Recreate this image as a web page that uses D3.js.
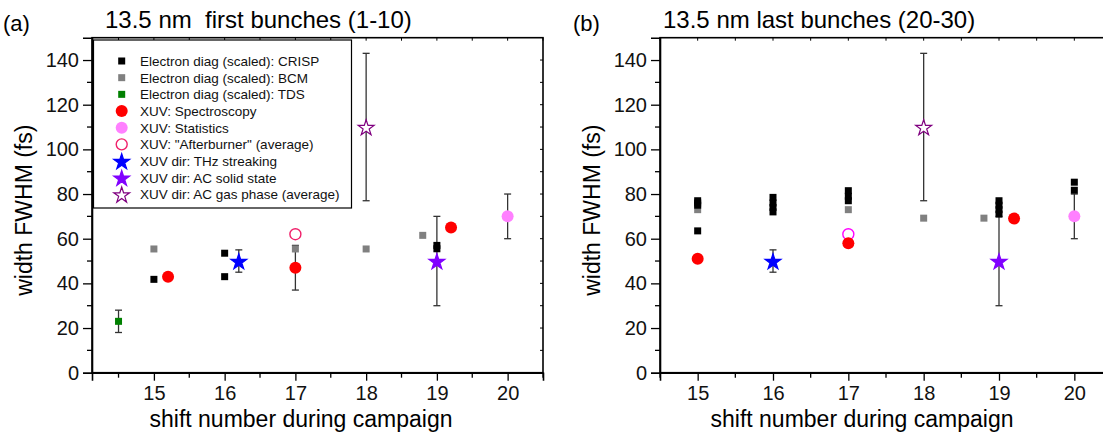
<!DOCTYPE html>
<html><head><meta charset="utf-8">
<script src="https://cdn.jsdelivr.net/npm/d3@7"></script>
<style>
body{margin:0;background:#fff;}
svg{font-family:"Liberation Sans",Arial,sans-serif;}
text{white-space:pre;}
</style></head>
<body>
<svg id="chart" width="1103" height="441"></svg>
<script>
// ---------- data ----------
const xTickValues = [15, 16, 17, 18, 19, 20];
const yTickValues = [0, 20, 40, 60, 80, 100, 120, 140];
const panelTitles = ["13.5 nm  first bunches (1-10)", "13.5 nm last bunches (20-30)"];
const panelLetters = ["(a)", "(b)"];
const legendLabels = [
  "Electron diag (scaled): CRISP",
  "Electron diag (scaled): BCM",
  "Electron diag (scaled): TDS",
  "XUV: Spectroscopy",
  "XUV: Statistics",
  "XUV: \"Afterburner\" (average)",
  "XUV dir: THz streaking",
  "XUV dir: AC solid state",
  "XUV dir: AC gas phase (average)"
];

// panel (a)
const crispA_x = [15, 16, 16, 19, 19];
const crispA_y = [41.8, 53.5, 43, 57, 55.5];
const bcmA_x = [15, 17, 18, 18.8];
const bcmA_y = [55.4, 55.4, 55.4, 61.5];
const tdsA_x = [14.5], tdsA_y = [23], tdsA_err = [5];
const specA_x = [15.2, 17, 19.2], specA_y = [43, 47, 65], specA_err = [0, 10, 0];
const statA_x = [20], statA_y = [70], statA_err = [10];
const afterA_x = [17], afterA_y = [62];
const thzA_x = [16.2], thzA_y = [50], thzA_err = [5];
const acSolidA_x = [19], acSolidA_y = [50], acSolidA_err = [20];
const acGasA_x = [18], acGasA_y = [110], acGasA_err = [33];

// panel (b)
const crispB_x = [15, 15, 15, 15, 16, 16, 16, 16, 17, 17, 17, 19, 19, 19, 19, 20, 20];
const crispB_y = [77, 76, 75, 63.5, 78.5, 76, 74, 72, 81.5, 79, 77, 77, 75, 73, 71, 85.3, 81.7];
const bcmB_x = [15, 17, 18, 18.8];
const bcmB_y = [73, 73, 69.2, 69.2];
const specB_x = [15, 17, 19.2], specB_y = [51, 58, 69], specB_err = [0, 0, 0];
const statB_x = [20], statB_y = [70], statB_err = [10];
const afterB_x = [17], afterB_y = [62];
const thzB_x = [16], thzB_y = [50], thzB_err = [5];
const acSolidB_x = [19], acSolidB_y = [50], acSolidB_err = [20];
const acGasB_x = [18], acGasB_y = [110], acGasB_err = [33];

// ---------- helpers ----------
const zip = (xs, ys, es) => xs.map((x, i) => ({x, y: ys[i], e: es ? es[i] : 0}));

const panels = [
  {
    left: 92, right: 543, xDomain: [14.125, 20.5], letter: panelLetters[0], title: panelTitles[0],
    titleX: 105, letterX: 3, labelCX: 301, legend: true, afterColor: "#f0206a",
    crisp: zip(crispA_x, crispA_y), bcm: zip(bcmA_x, bcmA_y), tds: zip(tdsA_x, tdsA_y, tdsA_err),
    spec: zip(specA_x, specA_y, specA_err), stat: zip(statA_x, statA_y, statA_err),
    after: zip(afterA_x, afterA_y), thz: zip(thzA_x, thzA_y, thzA_err),
    acSolid: zip(acSolidA_x, acSolidA_y, acSolidA_err), acGas: zip(acGasA_x, acGasA_y, acGasA_err)
  },
  {
    left: 660, right: 1112, xDomain: [14.5, 20.5], letter: panelLetters[1], title: panelTitles[1],
    titleX: 663, letterX: 573, labelCX: 862, legend: false, afterColor: "#ff00ff",
    crisp: zip(crispB_x, crispB_y), bcm: zip(bcmB_x, bcmB_y), tds: [],
    spec: zip(specB_x, specB_y, specB_err), stat: zip(statB_x, statB_y, statB_err),
    after: zip(afterB_x, afterB_y), thz: zip(thzB_x, thzB_y, thzB_err),
    acSolid: zip(acSolidB_x, acSolidB_y, acSolidB_err), acGas: zip(acGasB_x, acGasB_y, acGasB_err)
  }
];

const svg = d3.select("#chart");
const plotTop = 37.7, plotBottom = 372.7;
const y = d3.scaleLinear().domain([0, 150]).range([plotBottom, plotTop]);

const starSym = d3.symbol().type(d3.symbolStar).size(78);
const colors = {
  crisp: "#000000", bcm: "#808080", tds: "#008000", spec: "#ff0000", stat: "#ff80ff",
  thz: "#0000ff", acSolid: "#8000ff", acGas: "#800080"
};

panels.forEach(p => {
  const x = d3.scaleLinear().domain(p.xDomain).range([p.left, p.right]);
  const g = svg.append("g");

  // frame
  g.append("rect").attr("x", p.left).attr("y", plotTop)
    .attr("width", p.right - p.left).attr("height", plotBottom - plotTop)
    .attr("fill", "none").attr("stroke", "#000").attr("stroke-width", 1.6);

  // axes
  const xMinor = d3.range(14.5, 20.51, 0.5).filter(v => v >= p.xDomain[0]);
  const yMinor = d3.range(10, 150, 20);
  const xAxis = d3.axisBottom(x).tickValues(xTickValues).tickSize(8).tickPadding(5).tickFormat(d3.format("d"));
  const gx = g.append("g").attr("transform", `translate(0,${plotBottom})`).call(xAxis);
  gx.append("g").selectAll("line").data(xMinor.filter(v => !xTickValues.includes(v))).join("line")
    .attr("x1", d => x(d)).attr("x2", d => x(d)).attr("y1", 0).attr("y2", 5).attr("stroke", "#000").attr("stroke-width", 1.3);
  const yAxis = d3.axisLeft(y).tickValues(yTickValues).tickSize(9).tickPadding(4);
  const gy = g.append("g").attr("transform", `translate(${p.left},0)`).call(yAxis);
  gy.append("g").selectAll("line").data(yMinor).join("line")
    .attr("x1", 0).attr("x2", -5).attr("y1", d => y(d)).attr("y2", d => y(d)).attr("stroke", "#000").attr("stroke-width", 1.3);
  [gx, gy].forEach(a => {
    a.select(".domain").attr("stroke-width", 1.6);
    a.selectAll(".tick line").attr("stroke-width", 1.3);
    a.selectAll(".tick text").attr("font-size", 20).attr("font-family", "Liberation Sans, Arial, sans-serif").attr("fill", "#111");
  });
  // top and right mirrored ticks (inward)
  g.append("g").selectAll("line").data(xMinor).join("line")
    .attr("x1", d => x(d)).attr("x2", d => x(d)).attr("y1", plotTop).attr("y2", plotTop + 3).attr("stroke", "#000").attr("stroke-width", 1);
  g.append("g").selectAll("line").data(yTickValues.concat(yMinor)).join("line")
    .attr("x1", p.right).attr("x2", p.right - 3).attr("y1", d => y(d)).attr("y2", d => y(d)).attr("stroke", "#000").attr("stroke-width", 1);

  // labels
  g.append("text").attr("x", p.letterX).attr("y", 31).attr("font-size", 22).text(p.letter);
  g.append("text").attr("x", p.titleX).attr("y", 28).attr("font-size", 24).text(p.title);
  g.append("text").attr("x", p.labelCX).attr("y", 427).attr("text-anchor", "middle").attr("font-size", 23)
    .text("shift number during campaign");
  g.append("text").attr("transform", `translate(${p.left - 60},${(plotTop + plotBottom) / 2 + 5}) rotate(-90)`)
    .attr("text-anchor", "middle").attr("font-size", 23).text("width FWHM (fs)");

  // error bars
  const errData = [].concat(p.tds, p.spec, p.stat, p.thz, p.acSolid, p.acGas).filter(d => d.e > 0);
  const eg = g.append("g").attr("stroke", "#333").attr("stroke-width", 1.3);
  errData.forEach(d => {
    eg.append("line").attr("x1", x(d.x)).attr("x2", x(d.x)).attr("y1", y(d.y - d.e)).attr("y2", y(d.y + d.e));
    [d.y - d.e, d.y + d.e].forEach(v => eg.append("line")
      .attr("x1", x(d.x) - 3.5).attr("x2", x(d.x) + 3.5).attr("y1", y(v)).attr("y2", y(v)));
  });

  const sq = 7;
  const squares = (data, col) => g.append("g").selectAll("rect").data(data).join("rect")
    .attr("x", d => x(d.x) - sq / 2).attr("y", d => y(d.y) - sq / 2).attr("width", sq).attr("height", sq).attr("fill", col);
  squares(p.bcm, colors.bcm);
  squares(p.crisp, colors.crisp);
  squares(p.tds, colors.tds);

  g.append("g").selectAll("circle").data(p.after).join("circle")
    .attr("cx", d => x(d.x)).attr("cy", d => y(d.y)).attr("r", 5.5)
    .attr("fill", "#fff").attr("stroke", p.afterColor).attr("stroke-width", 1.4);
  g.append("g").selectAll("circle").data(p.spec).join("circle")
    .attr("cx", d => x(d.x)).attr("cy", d => y(d.y)).attr("r", 6).attr("fill", colors.spec);
  g.append("g").selectAll("circle").data(p.stat).join("circle")
    .attr("cx", d => x(d.x)).attr("cy", d => y(d.y)).attr("r", 6).attr("fill", colors.stat);

  const stars = (data, fill, stroke) => g.append("g").selectAll("path").data(data).join("path")
    .attr("d", starSym).attr("transform", d => `translate(${x(d.x)},${y(d.y) + 1})`)
    .attr("fill", fill).attr("stroke", stroke).attr("stroke-width", 1.2);
  stars(p.thz, colors.thz, colors.thz);
  stars(p.acSolid, colors.acSolid, colors.acSolid);
  stars(p.acGas, "#fff", colors.acGas);

  // legend
  if (p.legend) {
    const lg = g.append("g");
    lg.append("rect").attr("x", 93.5).attr("y", 40).attr("width", 258).attr("height", 168)
      .attr("fill", "#fff").attr("stroke", "#000").attr("stroke-width", 1.2);
    const sx = 121.7, y0 = 61, dy = 16.67;
    legendLabels.forEach((lab, i) => {
      const cy = y0 + i * dy;
      const item = lg.append("g");
      if (i < 3) {
        const c = [colors.crisp, colors.bcm, colors.tds][i];
        item.append("rect").attr("x", sx - 3.5).attr("y", cy - 3.5).attr("width", 7).attr("height", 7).attr("fill", c);
      } else if (i === 3 || i === 4) {
        item.append("circle").attr("cx", sx).attr("cy", cy).attr("r", 6).attr("fill", i === 3 ? colors.spec : colors.stat);
      } else if (i === 5) {
        item.append("circle").attr("cx", sx).attr("cy", cy).attr("r", 5.5).attr("fill", "#fff")
          .attr("stroke", p.afterColor).attr("stroke-width", 1.4);
      } else {
        const f = i === 6 ? colors.thz : i === 7 ? colors.acSolid : "#fff";
        const s = i === 6 ? colors.thz : i === 7 ? colors.acSolid : colors.acGas;
        item.append("path").attr("d", starSym).attr("transform", `translate(${sx},${cy + 1})`)
          .attr("fill", f).attr("stroke", s).attr("stroke-width", 1.2);
      }
      item.append("text").attr("x", 140).attr("y", cy + 5).attr("font-size", 13.5).attr("fill", "#111").text(lab);
    });
  }
});
</script>
</body></html>
